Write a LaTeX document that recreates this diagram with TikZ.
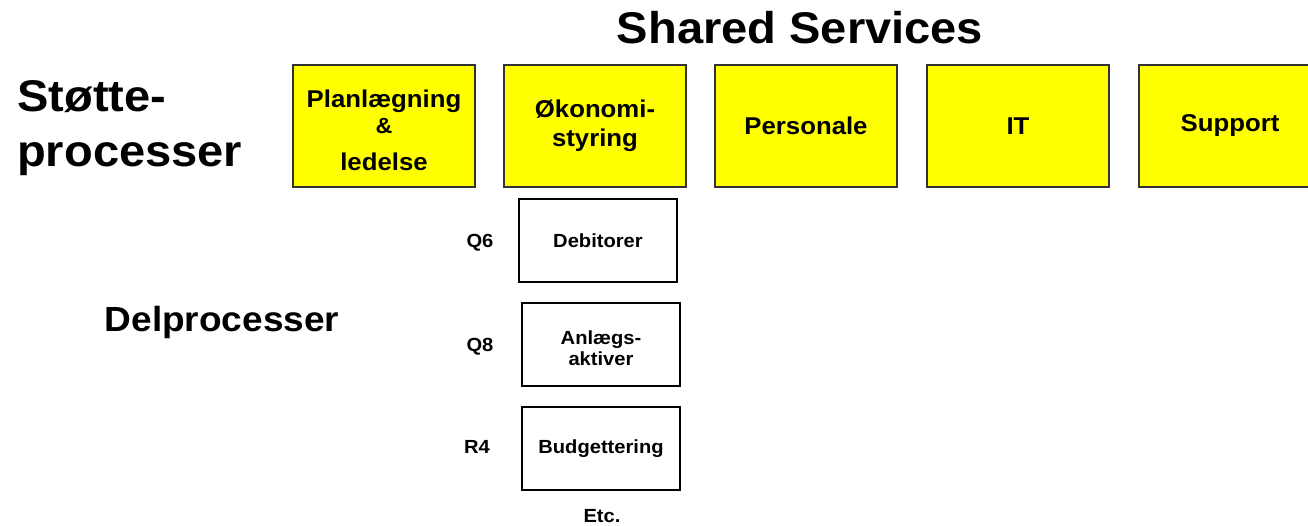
\documentclass[tikz,border=0pt]{standalone}
\usepackage{fontspec}
\setmainfont{Liberation Sans}[FakeStretch=1.06]
\definecolor{boxyellow}{RGB}{255,255,0}
\begin{document}
\begin{tikzpicture}[x=1pt,y=-1pt,
  every node/.style={font=\bfseries, inner sep=0pt},
  servicebox/.style={draw=black!80, line width=1.5pt, fill=boxyellow,
    minimum width=182pt, minimum height=122pt, align=center,
    font=\fontsize{24.3}{29}\selectfont\bfseries},
  subbox/.style={draw=black, line width=1.5pt, fill=white,
    minimum width=158pt, minimum height=83pt, align=center,
    font=\fontsize{19}{21}\selectfont\bfseries},
  code/.style={font=\fontsize{19}{21}\selectfont\bfseries},
  heading/.style={font=\fontsize{44.4}{55}\selectfont\bfseries, align=left}]
\useasboundingbox (0,0) rectangle (1308,525);
\clip (0,0) rectangle (1308,525);

% headings
\node[heading] (title) at (800,28) {Shared Services};
\node[heading, anchor=west] (support) at (17,128) {Støtte-\\processer};
\node[font=\fontsize{34.9}{40}\selectfont\bfseries] (sub) at (222,322) {Delprocesser};

% shared service areas
\node[servicebox] (plan) at (384,126) {\rule{0pt}{26pt}Planlægning\\[-3pt]{\fontsize{22}{24}\selectfont\&}\\[8pt]ledelse};
\node[servicebox] (oek)  at (595,126) {Økonomi-\\styring};
\node[servicebox] (pers) at (806,126) {Personale};
\node[servicebox] (it)   at (1018,126) {IT};
\node[servicebox] (supp) at (1230,126) {Support};

% sub-processes of Økonomistyring
\node[subbox] (deb) at (598,240.5) {Debitorer};
\node[subbox] (anl) at (601,344.5) {\rule{0pt}{22pt}Anlægs-\\aktiver};
\node[subbox] (bud) at (601,448.5) {Budgettering};

\node[code] (q6) at (480,243) {Q6};
\node[code] (q8) at (480,347) {Q8};
\node[code] (r4) at (477,447) {R4};
\node[code] (etc) at (602,516) {Etc.};
\end{tikzpicture}
\end{document}
